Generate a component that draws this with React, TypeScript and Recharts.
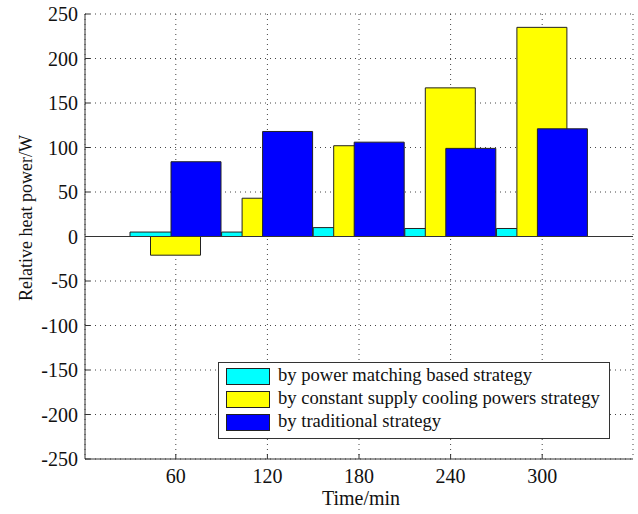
import { BarChart, Bar, XAxis, YAxis, CartesianGrid, ReferenceLine, Legend, Label } from 'recharts'

const times = ['60', '120', '180', '240', '300']
const powerMatching = [5, 5, 10, 9, 9]
const constantSupply = [-21, 43, 102, 167, 235]
const traditional = [84, 118, 106, 99, 121]
const yTicks = [-250, -200, -150, -100, -50, 0, 50, 100, 150, 200, 250]

const SERIES = [
  { key: 'pm', name: 'by power matching based strategy', color: '#00FFFF' },
  { key: 'cs', name: 'by constant supply cooling powers strategy', color: '#FFFF00' },
  { key: 'tr', name: 'by traditional strategy', color: '#0000FF' },
]

const data = times.map((t, i) => ({
  time: t,
  pm: powerMatching[i],
  cs: constantSupply[i],
  tr: traditional[i],
}))

const FONT = '"Liberation Serif", "Times New Roman", serif'
const AXIS = '#333'

function LegendBox() {
  return (
    <div
      style={{
        border: '1px solid #333',
        background: '#fff',
        padding: '2px 7px 4px 7px',
        fontFamily: FONT,
        fontSize: 18.6,
        color: '#111',
        boxSizing: 'border-box',
        width: 392,
      }}
    >
      {SERIES.map((s) => (
        <div key={s.key} style={{ display: 'flex', alignItems: 'center', height: 23 }}>
          <span
            style={{
              display: 'inline-block',
              flexShrink: 0,
              width: 44,
              height: 17,
              background: s.color,
              border: '1px solid #222',
              boxSizing: 'border-box',
              marginRight: 8,
            }}
          />
          <span style={{ position: 'relative', top: -2, whiteSpace: 'nowrap' }}>{s.name}</span>
        </div>
      ))}
    </div>
  )
}

export default function App() {
  return (
    <div style={{ position: 'absolute', left: 0, top: 0, background: '#fff' }}>
      <BarChart
        width={638}
        height={514}
        data={data}
        margin={{ top: 14, right: 5, bottom: 0, left: 0 }}
        barSize={50}
        barGap={-29.5}
      >
        <CartesianGrid stroke="#444" strokeDasharray="1 4" />
        <XAxis
          dataKey="time"
          height={55}
          padding={{ left: 45, right: 45 }}
          stroke={AXIS}
          tickSize={-5}
          tickMargin={15}
          tick={{ fontSize: 20, fill: '#111', fontFamily: FONT }}
          interval={0}
        >
          <Label
            value="Time/min"
            position="insideBottom"
            offset={9}
            dx={2}
            style={{ fontSize: 20, fill: '#111', fontFamily: FONT }}
          />
        </XAxis>
        <XAxis
          xAxisId="top"
          dataKey="time"
          orientation="top"
          height={0}
          padding={{ left: 45, right: 45 }}
          stroke={AXIS}
          tickSize={-5}
          tick={false}
          interval={0}
        />
        <YAxis
          width={85}
          domain={[-250, 250]}
          ticks={yTicks}
          interval={0}
          stroke={AXIS}
          tickSize={-5}
          tickMargin={12}
          tick={{ fontSize: 20, fill: '#111', fontFamily: FONT }}
        >
          <Label
            content={() => (
              <text
                x={32}
                y={218}
                transform="rotate(-90 32 218)"
                textAnchor="middle"
                fontSize={18}
                fill="#111"
                fontFamily={FONT}
              >
                Relative heat power/W
              </text>
            )}
          />
        </YAxis>
        <YAxis
          yAxisId="right"
          orientation="right"
          width={0}
          domain={[-250, 250]}
          ticks={yTicks}
          interval={0}
          stroke={AXIS}
          tickSize={-5}
          tick={false}
        />
        {SERIES.map((s) => (
          <Bar
            key={s.key}
            dataKey={s.key}
            name={s.name}
            fill={s.color}
            stroke="#222"
            strokeWidth={1}
            isAnimationActive={false}
          />
        ))}
        <ReferenceLine y={0} stroke={AXIS} strokeWidth={1} />
        <Legend
          layout="vertical"
          align="center"
          verticalAlign="middle"
          content={() => <LegendBox />}
          wrapperStyle={{ position: 'absolute', left: 218, top: 362, width: 392 }}
        />
      </BarChart>
    </div>
  )
}
